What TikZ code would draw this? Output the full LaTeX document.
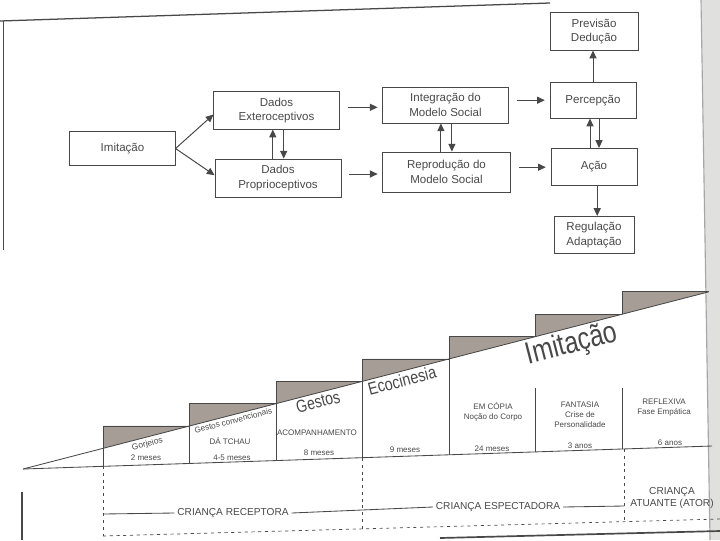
\documentclass[tikz,border=0pt]{standalone}
\usepackage{graphicx}
\usepackage{fontspec}
\setmainfont{Liberation Sans}
\usetikzlibrary{positioning,arrows.meta,calc}

\definecolor{ink}{RGB}{72,72,72}
\definecolor{stepgray}{RGB}{165,157,150}
\definecolor{gutter}{RGB}{224,224,222}

\tikzset{
  box/.style={draw=ink, line width=0.6pt, text=ink, align=center,
    font=\fontsize{8.2}{10.5}\selectfont, inner sep=1pt},
  flow/.style={draw=ink, line width=0.7pt, -{Triangle[length=5.5pt,width=5pt]}},
  gap/.style={shorten <=0.2cm, shorten >=0.12cm},
  edge/.style={draw=ink, line width=0.6pt},
  small/.style={text=ink, align=center, font=\fontsize{5.7}{7.2}\selectfont, inner sep=1pt},
  slope/.style={rotate=14.49, anchor=north, text=ink, inner sep=1pt},
  phase/.style={text=ink, fill=white, inner sep=2pt, align=center,
    font=\fontsize{7.2}{9}\selectfont},
  frontier/.style={draw=ink, line width=0.5pt, dash pattern=on 2.2pt off 2.6pt},
}
% height of the ramp at a given x
\newcommand{\rampy}[1]{469-0.2584*(#1-23)}

\begin{document}
\begin{tikzpicture}[x=0.025cm, y=-0.025cm]
  \useasboundingbox (0,0) rectangle (720,540);

  % edges of the scanned page
  \fill[gutter] (701,0) -- (720,0) -- (720,540) -- (710,540) -- cycle;
  \draw[gray!70, line width=0.8pt] (701,0) -- (710,540);
  \draw[edge, line width=0.9pt] (0,21) -- (550,3);
  \draw[edge] (3,21) -- (3,250);
  \draw[edge, line width=1.2pt] (22,492) -- (22,540);
  \draw[edge, line width=1.2pt] (440,538) -- (720,531);

  % flow chart
  \node[box, minimum width=2.63cm, minimum height=0.83cm] (imit) at (122.5,148.5) {Imitação};
  \node[box, minimum width=3.13cm, minimum height=0.93cm] (extero) at (276.5,110.5) {Dados\\Exteroceptivos};
  \node[box, minimum width=3.15cm, minimum height=0.95cm] (proprio) at (278,178) {Dados\\Proprioceptivos};
  \node[box, minimum width=3.13cm, minimum height=0.9cm] (integr) at (445.5,105) {Integração do\\Modelo Social};
  \node[box, minimum width=3.18cm, minimum height=1.0cm] (reprod) at (446.5,172) {Reprodução do\\Modelo Social};
  \node[box, minimum width=2.15cm, minimum height=0.88cm] (percep) at (593,100.5) {Percepção};
  \node[box, minimum width=2.15cm, minimum height=0.93cm] (acao) at (594,167) {Ação};
  \node[box, minimum width=2.2cm, minimum height=0.93cm] (previs) at (594,31.5) {Previsão\\Dedução};
  \node[box, minimum width=2.0cm, minimum height=0.93cm] (regul) at (594,235) {Regulação\\Adaptação};

  \draw[flow] (imit.east) -- ([yshift=-0.1cm]extero.west);
  \draw[flow] (imit.east) -- ([yshift=0.07cm]proprio.west);
  \draw[flow] ([xshift=-0.13cm]proprio.north) -- ([xshift=-0.13cm]proprio.north |- extero.south);
  \draw[flow] ([xshift=0.18cm]extero.south) -- ([xshift=0.18cm]extero.south |- proprio.north);
  \draw[flow, gap] ([yshift=0.08cm]extero.east) -- ([yshift=0.08cm]extero.east -| integr.west);
  \draw[flow, gap] ([yshift=0.1cm]proprio.east) -- ([yshift=0.1cm]proprio.east -| reprod.west);
  \draw[flow] ([xshift=-0.14cm]reprod.north) -- ([xshift=-0.14cm]reprod.north |- integr.south);
  \draw[flow] ([xshift=0.16cm]integr.south) -- ([xshift=0.16cm]integr.south |- reprod.north);
  \draw[flow, gap] ([yshift=0.12cm]integr.east) -- ([yshift=0.12cm]integr.east -| percep.west);
  \draw[flow, gap] ([yshift=0.12cm]reprod.east) -- ([yshift=0.12cm]reprod.east -| acao.west);
  \draw[flow] (percep.north) -- (percep.north |- previs.south);
  \draw[flow] ([xshift=-0.1cm]acao.north) -- ([xshift=-0.1cm]acao.north |- percep.south);
  \draw[flow] ([xshift=0.15cm]percep.south) -- ([xshift=0.15cm]percep.south |- acao.north);
  \draw[flow] ([xshift=0.08cm]acao.south) -- ([xshift=0.08cm]acao.south |- regul.north);

  % staircase of imitation
  \foreach \i in {1,...,7} {
    \pgfmathsetmacro\xa{103+86.5*(\i-1)}
    \pgfmathsetmacro\xb{\xa+86.5}
    \pgfmathsetmacro\ya{\rampy{\xa}}
    \pgfmathsetmacro\yt{\rampy{\xb}}
    \pgfmathsetmacro\yb{469-0.0335*(\xa-23)}
    \fill[stepgray] (\xa,\yt) -- (\xb,\yt) -- (\xa,\ya) -- cycle;
    \draw[edge] (\xa,\ya) -- (\xa,\yt) -- (\xb,\yt);
    \ifnum\i>5
      \draw[edge] (\xa,388) -- (\xa,\yb);
    \else
      \draw[edge] (\xa,\ya) -- (\xa,\yb);
    \fi
  }
  \draw[edge] (23,469) -- (708.5,291.9);
  \draw[edge] (23,469) -- (712,446);

  % texts of the steps
  \node[slope, font=\fontsize{6}{7}\selectfont] (gorj) at (146,{\rampy{146}+1.5}) {Gorjeios};
  \node[small] (m1) at (146,458) {2 meses};
  \node[slope, font=\fontsize{5.8}{7}\selectfont] (conv) at (232,{\rampy{232}+1}) {Gestos convencionais};
  \node[small] (tchau) at (230,441) {DÁ TCHAU};
  \node[small] (m2) at (232,458) {4-5 meses};
  \node[slope, font=\fontsize{12.5}{14}\selectfont] (gestos) at (316,{\rampy{316}+1}) {\scalebox{0.8}[1]{Gestos}};
  \node[small] (acomp) at (317,433) {ACOMPANHAMENTO};
  \node[small] (m3) at (319,453) {8 meses};
  \node[slope, font=\fontsize{12.5}{14}\selectfont] (ecoc) at (400,{\rampy{400}+1}) {\scalebox{0.82}[1]{Ecocinesia}};
  \node[small] (m4) at (405,450) {9 meses};
  \node[slope, font=\fontsize{22}{24}\selectfont] (imitbig) at (568,{\rampy{568}+1}) {\scalebox{0.8}[1]{Imitação}};
  \node[small] (copia) at (493,412) {EM CÓPIA\\Noção do Corpo};
  \node[small] (m5) at (492,449) {24 meses};
  \node[small] (fant) at (580,415) {FANTASIA\\Crise de\\Personalidade};
  \node[small] (m6) at (580,446) {3 anos};
  \node[small] (refl) at (664,408) {REFLEXIVA\\Fase Empática};
  \node[small] (m7) at (670,443) {6 anos};

  % stages of the child
  \draw[frontier] (103,466) -- (103,536);
  \draw[frontier] (362,458) -- (362,529);
  \draw[frontier] (624,449) -- (624,521);
  \draw[frontier] (103,536) -- (720,519);

  \coordinate (r0) at (103,514);
  \coordinate (r1) at (362,510);
  \coordinate (e1) at (624,506);
  \node[phase] (recep) at (233,513) {CRIANÇA RECEPTORA};
  \node[phase] (espec) at (498,507) {CRIANÇA ESPECTADORA};
  \node[phase, fill=none] (ator) at (672,498) {CRIANÇA\\ATUANTE (ATOR)};
  \draw[edge] (r0) -- (recep.west);
  \draw[edge] (recep.east) -- (r1) -- (espec.west);
  \draw[edge] (espec.east) -- (e1);
\end{tikzpicture}
\end{document}
